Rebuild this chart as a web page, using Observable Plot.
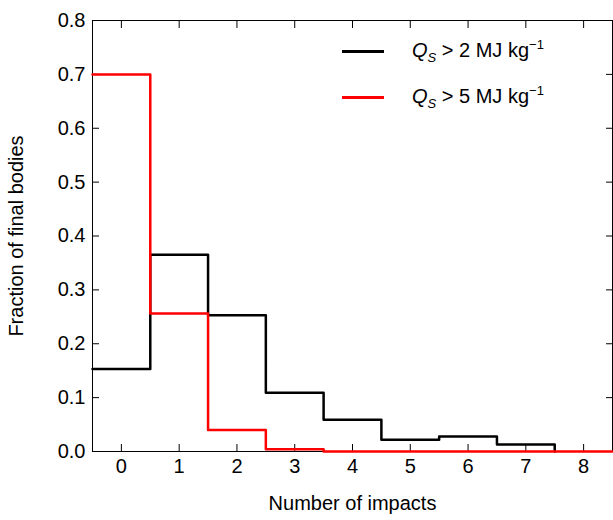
<!DOCTYPE html>
<html><head>
<script src="https://cdn.jsdelivr.net/npm/d3@7"></script>
<script src="https://cdn.jsdelivr.net/npm/@observablehq/plot@0.6"></script>
<style>
body{margin:0;font-family:"Liberation Sans",sans-serif;}
#wrap{position:relative;width:613px;height:520px;}
.leg{position:absolute;font-size:20px;white-space:nowrap;line-height:24px;}
.leg span.sw{display:inline-block;width:42px;height:3px;margin-right:28px;vertical-align:middle;}
.leg sub,.leg sup{font-size:13px;line-height:0;}
</style>
</head><body>
<div id="wrap"></div>
<script>
const impacts = [0,1,2,3,4,5,6,7,8];
const black = [0.153,0.365,0.253,0.109,0.059,0.022,0.028,0.013,0];
const red   = [0.70,0.256,0.04,0.004,0,0,0,0,0];
const xTicks = [0,1,2,3,4,5,6,7,8];
const yTicks = [0,0.1,0.2,0.3,0.4,0.5,0.6,0.7,0.8];

function steps(vals){
  const pts = [];
  impacts.forEach((k,i)=>{pts.push({x:k-0.5,y:vals[i]});pts.push({x:k+0.5,y:vals[i]});});
  return pts;
}
const chart = Plot.plot({
  width:613, height:520,
  marginLeft:92, marginRight:1, marginTop:20, marginBottom:69,
  style:{fontFamily:"Liberation Sans, sans-serif", fontSize:"20px", color:"black", background:"white"},
  x:{domain:[-0.5,8.5]},
  y:{domain:[0,0.8]},
  marks:[
    Plot.frame({stroke:"black", strokeWidth:1}),
    Plot.axisX(xTicks,{anchor:"bottom",tickSize:-7,tickPadding:14,label:"Number of impacts",labelAnchor:"center",labelOffset:58,labelArrow:"none",fontSize:20}),
    Plot.axisX(xTicks,{anchor:"top",tickSize:-7,text:null,label:null}),
    Plot.axisY(yTicks,{anchor:"left",tickSize:-7,tickPadding:14,tickFormat:d3.format(".1f"),label:"Fraction of final bodies",labelAnchor:"center",labelOffset:84,labelArrow:"none",fontSize:20}),
    Plot.axisY(yTicks,{anchor:"right",tickSize:-7,text:null,label:null}),
    Plot.line(steps(black).filter(d=>d.x<=7.5),{x:"x",y:"y",stroke:"black",strokeWidth:2.5,curve:"step-after"}),
    Plot.line(steps(red),{x:"x",y:"y",stroke:"red",strokeWidth:2.5,curve:"step-after"})
  ]
});
const wrap=document.getElementById("wrap");
wrap.appendChild(chart);
const legs=[["black","2"],["red","5"]];
legs.forEach(([c,v],i)=>{
  const d=document.createElement("div");d.className="leg";
  d.style.left="342px";d.style.top=(38+i*46)+"px";
  d.innerHTML=`<span class="sw" style="background:${c}"></span><i>Q</i><sub><i>S</i></sub>&nbsp;&gt; ${v} MJ kg<sup>−1</sup>`;
  wrap.appendChild(d);
});
</script>
</body></html>
